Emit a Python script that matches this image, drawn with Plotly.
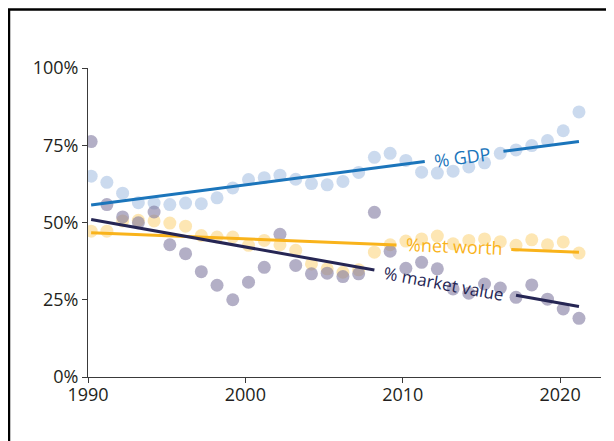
"""
Share of national figures over time: % GDP, % net worth, % market value
"""
import numpy as np
import plotly.graph_objects as go

years = list(range(1990, 2022))

pct_gdp = [65.0, 63.0, 59.5, 56.4, 56.3, 55.8, 56.3, 56.1, 58.0, 61.2,
           63.9, 64.5, 65.3, 64.0, 62.6, 62.2, 63.3, 66.2, 71.1, 72.4,
           70.1, 66.3, 66.0, 66.6, 68.0, 69.3, 72.4, 73.5, 74.9, 76.5,
           79.7, 85.8]
pct_net_worth = [47.2, 47.2, 50.5, 50.7, 50.5, 49.8, 48.8, 45.8, 45.3, 45.3,
                 42.6, 44.2, 42.8, 41.0, 36.6, 35.0, 33.9, 34.7, 40.4, 42.8,
                 44.0, 44.7, 45.6, 43.1, 44.2, 44.7, 43.8, 42.6, 44.4, 42.8,
                 43.7, 40.1]
pct_market = [76.2, 55.8, 51.8, 49.9, 53.4, 42.8, 39.9, 34.1, 29.7, 25.0,
              30.7, 35.5, 46.2, 36.1, 33.4, 33.6, 32.5, 33.4, 53.3, 40.7,
              35.2, 37.1, 35.0, 28.5, 27.1, 30.1, 28.8, 25.8, 29.8, 25.2,
              22.0, 19.0]

# trend line values at the first and last year
trend_gdp = [55.7, 76.2]
trend_net_worth = [46.7, 40.4]
trend_market = [51.0, 22.8]

x_ticks = [1990, 2000, 2010, 2020]
y_ticks = [0, 25, 50, 75, 100]
y_ticktext = ["0%", "25%", "50%", "75%", "100%"]

x = np.array(years) + 0.2
ends = [x[0], x[-1]]

fig = go.Figure()

# dots
for vals, col in [(pct_gdp, "#a9c2e3"), (pct_net_worth, "#fcd680"),
                  (pct_market, "#807aa0")]:
    fig.add_trace(go.Scatter(x=x, y=vals, mode="markers",
                             marker=dict(size=13, color=col, opacity=0.6),
                             hoverinfo="skip"))


def trend(vals, gap, color, label, lx, ly, angle, size=18):
    xs = [ends[0], gap[0], None, gap[1], ends[1]]
    ys = [vals[0], np.interp(gap[0], ends, vals), None,
          np.interp(gap[1], ends, vals), vals[1]]
    fig.add_trace(go.Scatter(x=xs, y=ys, mode="lines",
                             line=dict(color=color, width=3)))
    fig.add_annotation(x=lx, y=ly, text=label, showarrow=False,
                       textangle=angle,
                       font=dict(family="Open Sans", size=size, color=color))


trend(trend_gdp, (2011.4, 2016.4), "#1b75bb", "% GDP", 2013.8, 71.2, -7.5)
trend(trend_net_worth, (2009.6, 2016.9), "#f9b31b", "%net worth",
      2013.3, 42.4, 2.3)
trend(trend_market, (2008.2, 2017.2), "#262654", "% market value",
      2012.6, 30.4, 10.5, size=17)

axis_common = dict(showgrid=False, zeroline=False, showline=True,
                   linecolor="#3a3a3a", linewidth=1, ticks="outside",
                   ticklen=5, tickcolor="#3a3a3a",
                   tickfont=dict(family="Open Sans", size=18,
                                 color="#231f20"))

fig.update_xaxes(range=[1990, 2022.6], tickvals=x_ticks,
                 ticklabelstandoff=-4, **axis_common)
fig.update_yaxes(range=[0, 100], tickvals=y_ticks, ticktext=y_ticktext,
                 **axis_common)

# black frame around the chart
fig.add_shape(type="rect", xref="paper", yref="paper",
              x0=-0.154, x1=1.3, y0=-0.5, y1=1.189,
              line=dict(color="black", width=2.5))

fig.update_layout(width=614, height=441, showlegend=False,
                  plot_bgcolor="white", paper_bgcolor="white",
                  margin=dict(l=80, r=21, t=60, b=72))

fig.write_html("out.html")
